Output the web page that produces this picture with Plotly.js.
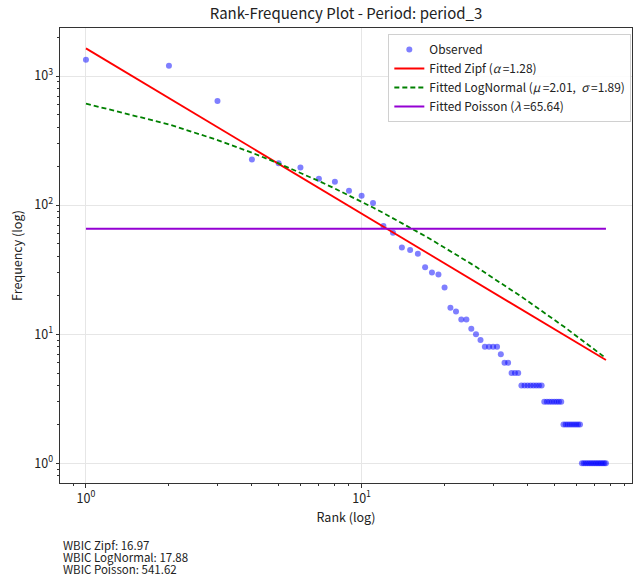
<!DOCTYPE html>
<html>
<head>
<meta charset="utf-8">
<script src="https://cdn.plot.ly/plotly-3.0.1.min.js"></script>
<style>html,body{margin:0;padding:0;background:#fff;}#chart{width:638px;height:576px;}</style>
</head>
<body>
<div id="chart"></div>
<script>
// Observed rank-frequency data (period_3)
const frequencies = [1337,1202,640,226,211,196,160,152,129,118,
  104,69,61,47,45,42,33,30,29,23,
  16,15,13,13,11,10,9,8,8,8,
  8,7,6,6,5,5,5,
  4,4,4,4,4,4,4,4,
  3,3,3,3,3,3,3,3,
  2,2,2,2,2,2,2,2,2,
  1,1,1,1,1,1,1,1,1,1,1,1,1,1,1];
const ranks = frequencies.map((_, i) => i + 1);

// Fitted parameters (from legend)
const zipfAlpha = 1.28;
const lnMu = 2.01;
const lnSigma = 1.89;
const poissonLambda = 65.64;

// WBIC values
const wbicLabels = ["WBIC Zipf: 16.97", "WBIC LogNormal: 17.88", "WBIC Poisson: 541.62"];

// Tick labels
const majorTickVals = [1, 10, 100, 1000];
const xTickText = ["10<sup>0</sup>", "10<sup>1</sup>"];
const yTickText = ["10<sup>0</sup>", "10<sup>1</sup>", "10<sup>2</sup>", "10<sup>3</sup>"];

const total = frequencies.reduce((a, b) => a + b, 0);
const harmonic = ranks.reduce((s, r) => s + Math.pow(r, -zipfAlpha), 0);
const zipfY = ranks.map(r => total * Math.pow(r, -zipfAlpha) / harmonic);
const lnY = ranks.map(r => total * Math.exp(-Math.pow(Math.log(r) - lnMu, 2) / (2 * lnSigma * lnSigma)) / (r * lnSigma * Math.sqrt(2 * Math.PI)));
const poisY = ranks.map(() => poissonLambda);

const minorVals = [];
for (let d = 1; d <= 1000; d *= 10) for (let k = 2; k <= 9; k++) minorVals.push(k * d);
minorVals.push(0.2,0.3,0.4,0.5,0.6,0.7,0.8,0.9);

const FONT = '"Noto Sans CJK JP", "Noto Sans", sans-serif';

const traces = [
  {x: ranks, y: frequencies, mode: 'markers', type: 'scatter', name: 'Observed',
   marker: {color: 'rgba(0,0,255,0.5)', size: 6, line: {width: 0}}},
  {x: ranks, y: zipfY, mode: 'lines', type: 'scatter', name: 'Fitted Zipf (<i>α</i> =1.28)',
   line: {color: 'red', width: 1.8}},
  {x: ranks, y: lnY, mode: 'lines', type: 'scatter', name: 'Fitted LogNormal (<i>μ</i> =2.01,  <i>σ</i> =1.89)',
   line: {color: 'green', width: 1.8, dash: '5px,3px'}},
  {x: ranks, y: poisY, mode: 'lines', type: 'scatter', name: 'Fitted Poisson (<i>λ</i> =65.64)',
   line: {color: 'darkviolet', width: 2}}
];

const axisCommon = {
  type: 'log', showline: true, mirror: true, linecolor: '#333', linewidth: 1,
  ticks: 'outside', ticklen: 3.5, tickwidth: 1, tickcolor: '#333',
  showgrid: true, gridcolor: '#e6e6e6', gridwidth: 1, zeroline: false,
  tickfont: {family: FONT, size: 12.5, color: '#222'},
  minor: {tickvals: minorVals, ticks: 'outside', ticklen: 2, tickcolor: '#333', showgrid: false}
};

const layout = {
  width: 638, height: 576,
  margin: {l: 59.5, r: 5.5, t: 28, b: 93, pad: 0},
  paper_bgcolor: '#fff', plot_bgcolor: '#fff',
  font: {family: FONT, size: 12, color: '#222'},
  title: {text: 'Rank-Frequency Plot - Period: period_3', x: 0.5, xref: 'paper', y: 1 - 14/576, yanchor: 'middle', font: {family: FONT, size: 15, color: '#222'}},
  xaxis: Object.assign({}, axisCommon, {
    range: [-0.0942, 1.981], tickvals: majorTickVals.slice(0, 2), ticktext: xTickText,
    title: {text: 'Rank (log)', font: {family: FONT, size: 12.5, color: '#222'}, standoff: 6}
  }),
  yaxis: Object.assign({}, axisCommon, {
    range: [-0.1526, 3.372], tickvals: majorTickVals, ticktext: yTickText,
    title: {text: 'Frequency (log)', font: {family: FONT, size: 12.5, color: '#222'}, standoff: 8}
  }),
  showlegend: true,
  legend: {x: 0.574, y: 0.9868, xanchor: 'left', yanchor: 'top',
    bgcolor: 'rgba(255,255,255,0.85)', bordercolor: '#d0d0d0', borderwidth: 1,
    font: {family: FONT, size: 11.9, color: '#222'}, tracegroupgap: 0},
  annotations: wbicLabels.map((t, i) => ({
    text: t, xref: 'paper', yref: 'paper', x: 0.001, y: (483 - (545 + 12 * i)) / 455,
    xanchor: 'left', yanchor: 'middle', showarrow: false,
    font: {family: FONT, size: 11.5, color: '#222'}
  }))
};

Plotly.newPlot('chart', traces, layout, {displayModeBar: false, staticPlot: true});
</script>
</body>
</html>
